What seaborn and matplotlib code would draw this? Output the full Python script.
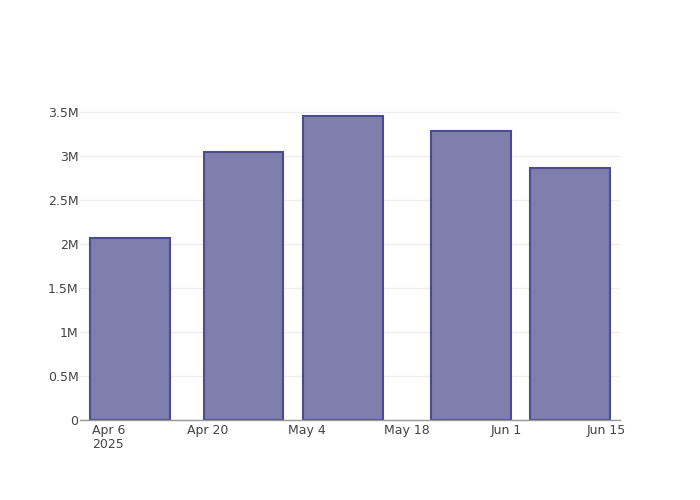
import pandas as pd
import matplotlib.pyplot as plt
import matplotlib.dates as mdates
import numpy as np
import seaborn as sns

# dados
dates = ['2025-04-09', '2025-04-25', '2025-05-09', '2025-05-27', '2025-06-10']
values = [2.07e6, 3.05e6, 3.455e6, 3.285e6, 2.865e6]
tick_dates = ['2025-04-06', '2025-04-20', '2025-05-04', '2025-05-18', '2025-06-01', '2025-06-15']
tick_labels = ['Apr 6\n2025', 'Apr 20', 'May 4', 'May 18', 'Jun 1', 'Jun 15']
y_ticks = [0, 0.5e6, 1e6, 1.5e6, 2e6, 2.5e6, 3e6, 3.5e6]
y_labels = ['0', '0.5M', '1M', '1.5M', '2M', '2.5M', '3M', '3.5M']

df = pd.DataFrame({'date': mdates.date2num(pd.to_datetime(dates)), 'value': values})

sns.set_style('white')
plt.rcParams['font.family'] = ['DejaVu Sans']

fig = plt.figure(figsize=(7, 5), dpi=100)
ax = fig.add_axes([80 / 700, 80 / 500, 540 / 700, 320 / 500])

sns.barplot(data=df, x='date', y='value', native_scale=True, width=0.8,
            color='#7f7fae', edgecolor='#4b4b8f', linewidth=1.5, saturation=1, ax=ax)

ax.set_xlim(mdates.date2num(pd.Timestamp('2025-04-02 00:00')),
            mdates.date2num(pd.Timestamp('2025-06-17 00:00')))
ax.set_ylim(0, 3.636e6)

ax.set_xticks(mdates.date2num(pd.to_datetime(tick_dates)))
ax.set_xticklabels(tick_labels, ha='center', va='top', linespacing=1.1)
ax.set_yticks(y_ticks)
ax.set_yticklabels(y_labels)
ax.tick_params(axis='both', length=0, labelsize=9, colors='#444444')
ax.tick_params(axis='x', pad=3)
ax.tick_params(axis='y', pad=1)

ax.yaxis.grid(True, color='#eeeeee', linewidth=1)
ax.xaxis.grid(False)
ax.set_axisbelow(True)
for s in ['top', 'right', 'left']:
    ax.spines[s].set_visible(False)
ax.spines['bottom'].set_color('#999999')
ax.spines['bottom'].set_linewidth(1)
ax.set_xlabel('')
ax.set_ylabel('')

fig.savefig('out.png', dpi=100)
